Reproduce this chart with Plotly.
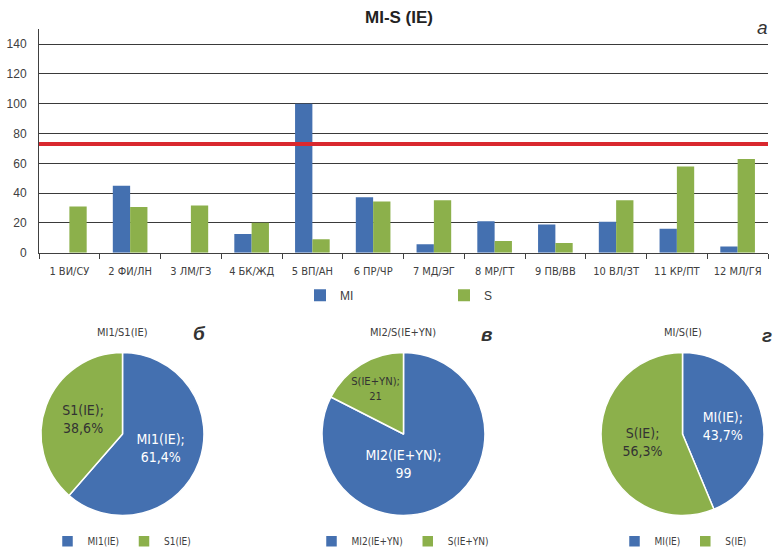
import plotly.graph_objects as go

# ---------------- data ----------------
CATEGORIES = ["1 ВИ/СУ", "2 ФИ/ЛН", "3 ЛМ/ГЗ", "4 БК/ЖД", "5 ВП/АН", "6 ПР/ЧР",
              "7 МД/ЭГ", "8 МР/ГТ", "9 ПВ/ВВ", "10 ВЛ/ЗТ", "11 КР/ПТ", "12 МЛ/ГЯ"]
MI_VALUES = [0, 45.0, 0, 12.6, 100.0, 37.3, 5.8, 21.2, 19.0, 20.8, 16.1, 4.2]
S_VALUES = [31.1, 30.7, 31.8, 20.1, 9.1, 34.4, 35.3, 7.9, 6.6, 35.3, 57.9, 62.9]
THRESHOLD = 73
Y_TICKS = [0, 20, 40, 60, 80, 100, 120, 140]

PIE1_LABELS = ["MI1(IE)", "S1(IE)"]
PIE1_VALUES = [61.4, 38.6]
PIE2_LABELS = ["MI2(IE+YN)", "S(IE+YN)"]
PIE2_VALUES = [99, 21]
PIE3_LABELS = ["MI(IE)", "S(IE)"]
PIE3_VALUES = [43.7, 56.3]

BLUE = "#4470B0"
GREEN = "#8CB04B"
RED = "#D9282E"
TXT = "#404040"
FONT = "Liberation Sans"
NARROW = "Liberation Sans Narrow, DejaVu Sans Condensed, Liberation Sans"

W, H = 776, 560


def px(x):
    return x / W


def py(y):
    return 1 - y / H


fig = go.Figure()

fig.add_trace(go.Bar(x=CATEGORIES, y=MI_VALUES, name="MI",
                     marker=dict(color=BLUE, line=dict(width=0)),
                     legend="legend"))
fig.add_trace(go.Bar(x=CATEGORIES, y=S_VALUES, name="S",
                     marker=dict(color=GREEN, line=dict(width=0)),
                     legend="legend"))

fig.add_hline(y=THRESHOLD, line=dict(color=RED, width=4), layer="above")

pies = [
    (PIE1_LABELS, PIE1_VALUES, "%{label};<br>%{percent:.1%}", 40, 205, "legend2"),
    (PIE2_LABELS, PIE2_VALUES, "%{label};<br>%{value}", 321, 486, "legend3"),
    (PIE3_LABELS, PIE3_VALUES, "%{label};<br>%{percent:.1%}", 599, 766, "legend4"),
]
for labels, values, tmpl, x0, x1, lg in pies:
    fig.add_trace(go.Pie(
        labels=labels, values=values, sort=False, direction="clockwise", rotation=0,
        marker=dict(colors=[BLUE, GREEN], line=dict(color="white", width=1.5)),
        texttemplate=tmpl, textposition="inside", insidetextorientation="horizontal",
        insidetextfont=dict(color=["white", "#333333"], size=14, family=NARROW),
        domain=dict(x=[px(x0), px(x1)], y=[py(522), py(357)]),
        legend=lg, hoverinfo="label+value+percent",
    ))

fig.update_layout(
    width=W, height=H,
    margin=dict(l=0, r=0, t=0, b=0),
    paper_bgcolor="white", plot_bgcolor="white",
    separators=", ",
    font=dict(family=FONT, color=TXT, size=11),
    barmode="group", bargap=0.43, bargroupgap=0.0,
    title=dict(text="<b>MI-S (IE)</b>", x=px(399), y=py(17), xanchor="center", yanchor="middle",
               xref="paper", yref="paper", font=dict(size=17, color="#222222", family=FONT)),
    xaxis=dict(domain=[px(39), px(768)], showline=True, linecolor="#404040", linewidth=1,
               ticks="outside", tickson="boundaries", ticklen=5, tickcolor="#404040",
               ticklabelstandoff=8,
               tickfont=dict(size=11, color=TXT, family=NARROW), showgrid=False),
    yaxis=dict(domain=[py(256), py(29.5)], range=[0, 150], tickvals=Y_TICKS,
               showline=True, linecolor="#404040", linewidth=1,
               showgrid=True, gridcolor="#3a3a3a", gridwidth=1, zeroline=False,
               ticklabelstandoff=9,
               tickfont=dict(size=12, color=TXT, family=FONT), ticks=""),
    legend=dict(orientation="h", x=px(300), y=py(299), xanchor="left", yanchor="middle",
                entrywidth=99, font=dict(size=12, color=TXT), bgcolor="rgba(0,0,0,0)"),
    legend2=dict(orientation="h", x=px(122), y=py(548), xanchor="center", yanchor="middle",
                 font=dict(size=10, color=TXT, family=NARROW), bgcolor="rgba(0,0,0,0)"),
    legend3=dict(orientation="h", x=px(403), y=py(548), xanchor="center", yanchor="middle",
                 font=dict(size=10, color=TXT, family=NARROW), bgcolor="rgba(0,0,0,0)"),
    legend4=dict(orientation="h", x=px(683), y=py(548), xanchor="center", yanchor="middle",
                 font=dict(size=10, color=TXT, family=NARROW), bgcolor="rgba(0,0,0,0)"),
)

annots = [
    ("MI1/S1(IE)", 122, 337),
    ("MI2/S(IE+YN)", 403, 337),
    ("MI/S(IE)", 683, 337),
]
for text, x, y in annots:
    fig.add_annotation(text=text, x=px(x), y=py(y), xref="paper", yref="paper",
                       showarrow=False, xanchor="center", yanchor="middle",
                       font=dict(size=11, color=TXT, family=NARROW))

for text, x, y in [("а", 762, 28), ("б", 200, 338), ("в", 486, 339), ("г", 767, 340)]:
    fig.add_annotation(text="<b><i>" + text + "</i></b>" if text != "а" else "<i>" + text + "</i>",
                       x=px(x), y=py(y), xref="paper", yref="paper",
                       showarrow=False, xanchor="center", yanchor="middle",
                       font=dict(size=19, color="#333333", family=FONT))

fig.write_html("out.html", config={"displayModeBar": False},
               post_script="document.body.style.margin='0';document.body.style.overflow='hidden';")
